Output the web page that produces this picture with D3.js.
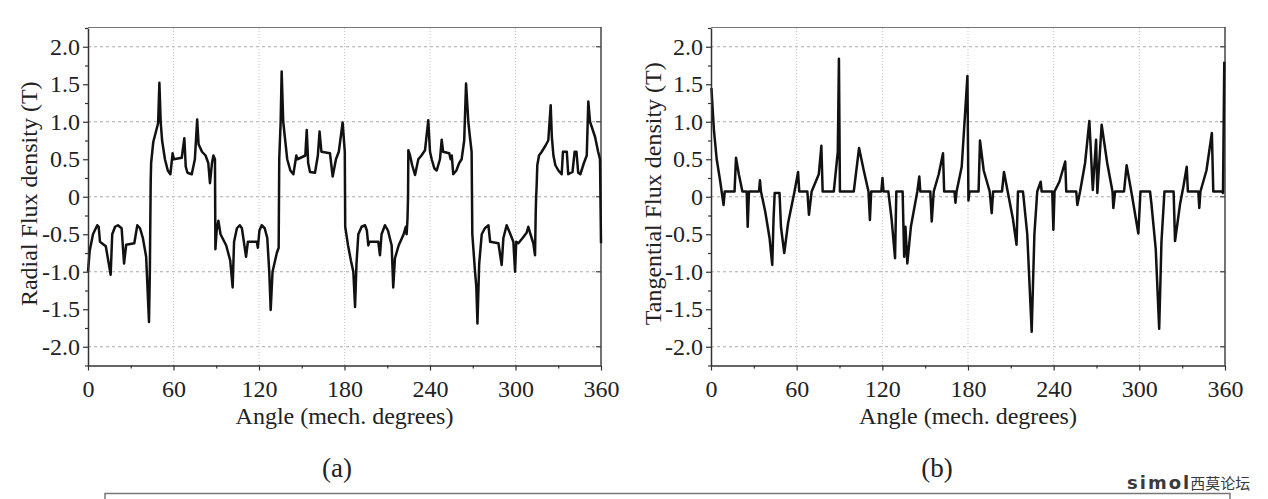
<!DOCTYPE html>
<html>
<head>
<meta charset="utf-8">
<script src="https://cdn.jsdelivr.net/npm/d3@7"></script>
<style>
  body { margin: 0; background: #fff; }
</style>
</head>
<body>
<script>
const W = 1268, H = 499;
const SERIF = "'Liberation Serif', 'Times New Roman', serif";

// (a) radial flux density
const radialAngles = [0, 1.2, 3.5, 6.5, 7.5, 8.4, 12.5, 15.9, 17, 19, 21, 23.6, 25.3, 26.8, 32.5, 34.6, 36.5, 38.5, 40.8, 42.8, 43.4, 44, 44.3, 45.8, 49.2, 50.1, 51, 52, 54, 56, 57.8, 59.4, 60.2, 65.8, 67.6, 68.6, 69.8, 72.8, 75, 76.6, 77.6, 80, 82.5, 84.4, 85.6, 87, 88, 89.1, 89.4, 90.3, 91.5, 93, 97, 99.8, 101.5, 102.5, 104.5, 106.5, 108, 110.9, 112.2, 118.5, 119.2, 120.3, 121.9, 124, 125.8, 127.2, 128.2, 129.5, 132.5, 133.8, 134.2, 135.2, 135.9, 137, 139.8, 142, 144.1, 146.2, 147, 152.5, 153.5, 154.5, 155.8, 159.3, 161.3, 162.5, 163.8, 169.8, 171.7, 174, 176, 178.7, 180.2, 180.5, 182.5, 184.5, 186.2, 187.4, 188.4, 189.7, 192, 194.4, 195.7, 196.7, 197.5, 203.7, 204.9, 206, 208.4, 210.5, 213.1, 214.2, 215.4, 218, 221.5, 223, 223.6, 224.2, 224.6, 224.8, 226, 227.5, 229.5, 231.8, 234, 236.5, 238.8, 240, 241.2, 243, 244.7, 247, 248.2, 249.2, 253.5, 254.5, 255.3, 256.3, 258.5, 260.5, 262.2, 264, 265.3, 266.9, 268, 269.2, 269.7, 271.6, 272.5, 273.3, 274.5, 276.3, 278.5, 281, 282.2, 288, 290.3, 291.5, 293.8, 296, 298.5, 299.7, 300.5, 302, 305, 307.8, 309, 310.5, 312.5, 313.7, 314.2, 314.5, 314.8, 315.3, 316.5, 318.4, 321, 323, 324.7, 325.5, 326.6, 328, 330.1, 332.4, 333.3, 336, 337, 340, 341.5, 342.8, 344, 345.5, 348, 350, 351.1, 352.3, 355.8, 358, 359.3, 360];
const radialFlux = [-1.0, -0.72, -0.5, -0.38, -0.4, -0.6, -0.66, -1.04, -0.5, -0.4, -0.38, -0.42, -0.89, -0.64, -0.62, -0.38, -0.42, -0.55, -0.8, -1.67, -1.0, 0.2, 0.45, 0.73, 0.98, 1.52, 1.0, 0.75, 0.5, 0.35, 0.3, 0.58, 0.5, 0.52, 0.78, 0.4, 0.32, 0.3, 0.5, 1.03, 0.7, 0.6, 0.55, 0.45, 0.18, 0.45, 0.55, 0.5, -0.7, -0.45, -0.32, -0.5, -0.65, -0.85, -1.21, -0.6, -0.42, -0.38, -0.42, -0.8, -0.6, -0.6, -0.68, -0.45, -0.38, -0.42, -0.55, -1.0, -1.51, -1.0, -0.75, -0.68, 0.5, 1.0, 1.67, 1.0, 0.5, 0.35, 0.3, 0.55, 0.5, 0.55, 0.89, 0.45, 0.33, 0.32, 0.55, 0.87, 0.6, 0.58, 0.27, 0.5, 0.6, 0.99, 0.6, -0.4, -0.65, -0.85, -1.0, -1.47, -0.9, -0.5, -0.4, -0.38, -0.45, -0.65, -0.6, -0.6, -0.78, -0.5, -0.38, -0.45, -0.65, -1.21, -0.82, -0.65, -0.5, -0.4, -0.5, -0.3, 0.0, 0.62, 0.55, 0.42, 0.29, 0.5, 0.55, 0.62, 1.02, 0.6, 0.5, 0.38, 0.35, 0.5, 0.76, 0.6, 0.58, 0.5, 0.55, 0.3, 0.35, 0.45, 0.5, 0.75, 1.51, 1.0, 0.8, 0.6, -0.5, -1.0, -1.2, -1.69, -0.9, -0.5, -0.42, -0.38, -0.6, -0.62, -0.91, -0.55, -0.38, -0.48, -0.6, -1.0, -0.6, -0.62, -0.55, -0.48, -0.4, -0.5, -0.62, -0.78, -0.2, 0.0, 0.13, 0.42, 0.55, 0.6, 0.68, 0.75, 1.22, 0.8, 0.55, 0.42, 0.35, 0.3, 0.6, 0.6, 0.3, 0.33, 0.6, 0.6, 0.32, 0.3, 0.45, 0.55, 1.27, 1.0, 0.8, 0.6, 0.5, -0.62];

// (b) tangential flux density
const tangentialAngles = [0.3, 2, 4, 6.5, 8.8, 9.6, 16.5, 17.5, 19.5, 22, 25, 25.7, 26.6, 33.6, 34.3, 35, 38, 41, 42.9, 43.8, 44.6, 48, 49, 51.3, 54, 58.5, 61, 61.8, 67.5, 68.6, 70.5, 75.5, 77.3, 78.2, 86, 88.8, 89.6, 90.3, 100, 103.7, 107, 110.3, 111.3, 112.2, 119.3, 120.1, 120.8, 124.2, 126.5, 128.9, 129.8, 134.2, 135.3, 136.2, 137.5, 140, 144.5, 145.9, 146.6, 153.6, 154.6, 156, 159.5, 162.5, 163.3, 170.5, 171.2, 172, 175.6, 179.6, 180.3, 181, 187.4, 188.4, 191, 195.2, 196.6, 197.6, 203.8, 205.2, 208.5, 211.5, 214, 215, 218.5, 221.5, 224.6, 226.5, 228.5, 230.9, 231.6, 239, 239.8, 240.6, 244, 248.1, 248.8, 255.8, 256.6, 258.5, 262, 265, 267.4, 269.7, 270.6, 273.6, 277.5, 281.2, 281.8, 283, 289.3, 291.1, 295, 299.3, 300.8, 307.5, 308.5, 311.5, 313.9, 315.5, 317.6, 324, 325, 328.5, 331, 333.2, 334, 341.3, 342, 342.8, 347, 350.8, 351.8, 357.9, 358.6, 359.5];
const tangentialFlux = [1.45, 0.9, 0.5, 0.2, -0.11, 0.07, 0.07, 0.52, 0.3, 0.07, 0.07, -0.4, 0.07, 0.07, 0.22, 0.07, -0.2, -0.55, -0.91, -0.3, 0.05, 0.05, -0.4, -0.75, -0.35, 0.07, 0.33, 0.07, 0.07, -0.24, 0.07, 0.3, 0.68, 0.07, 0.07, 0.6, 1.84, 0.07, 0.07, 0.65, 0.35, 0.07, -0.31, 0.07, 0.07, 0.25, 0.07, 0.07, -0.3, -0.82, 0.07, 0.07, -0.8, -0.4, -0.89, -0.4, 0.07, 0.27, 0.07, 0.07, -0.33, 0.07, 0.3, 0.58, 0.07, 0.07, -0.08, 0.07, 0.4, 1.61, -0.05, 0.07, 0.07, 0.75, 0.35, 0.07, -0.22, 0.07, 0.07, 0.33, 0.0, -0.3, -0.64, 0.07, 0.07, -0.5, -1.8, -0.5, 0.07, 0.2, 0.07, 0.07, -0.44, 0.07, 0.2, 0.47, 0.07, 0.07, -0.11, 0.07, 0.45, 1.01, 0.09, 0.76, 0.05, 0.96, 0.45, 0.07, -0.15, 0.07, 0.07, 0.42, 0.0, -0.49, 0.07, 0.07, -0.1, -0.7, -1.76, -0.6, 0.07, 0.07, -0.59, -0.1, 0.15, 0.4, 0.07, 0.07, -0.15, 0.07, 0.35, 0.85, 0.07, 0.07, 0.05, 1.8];

const angleTicks = [0, 60, 120, 180, 240, 300, 360];
const angleMinor = [30, 90, 150, 210, 270, 330];
const fluxTicks = [2, 1.5, 1, 0.5, 0, -0.5, -1, -1.5, -2];
const fluxMinor = [2.25, 1.75, 1.25, 0.75, 0.25, -0.25, -0.75, -1.25, -1.75, -2.25];
const gridFlux = [2, 1, 0, -1, -2];
const gridAngles = [60, 120, 180, 240, 300];

const panels = [
  { left: 88, right: 601, angles: radialAngles, flux: radialFlux,
    title: "Radial Flux density (T)", titleX: 37, caption: "(a)", captionX: 337 },
  { left: 711, right: 1225, angles: tangentialAngles, flux: tangentialFlux,
    title: "Tangential Flux density (T)", titleX: 661, caption: "(b)", captionX: 937 }
];

const TOP = 28, BOTTOM = 365.5;

const svg = d3.select("body").append("svg")
  .attr("width", W)
  .attr("height", H)
  .attr("viewBox", [0, 0, W, H]);

const fmt = d => d === 0 ? "0" : d.toFixed(1);

const drawPanel = p => {
  const x = d3.scaleLinear().domain([0, 360]).range([p.left, p.right]);
  const y = d3.scaleLinear().domain([-2.25, 2.25]).range([BOTTOM, TOP]);
  const g = svg.append("g");

  // grid
  g.append("g").selectAll("line")
    .data(gridFlux)
    .join("line")
      .attr("x1", p.left).attr("x2", p.right)
      .attr("y1", d => y(d)).attr("y2", d => y(d))
      .attr("stroke", "#aaa")
      .attr("stroke-width", 1)
      .attr("stroke-dasharray", "3,3");

  g.append("g").selectAll("line")
    .data(gridAngles)
    .join("line")
      .attr("x1", d => x(d)).attr("x2", d => x(d))
      .attr("y1", TOP).attr("y2", BOTTOM)
      .attr("stroke", "#c4c4c4")
      .attr("stroke-width", 1)
      .attr("stroke-dasharray", "1,2");

  // frame top and right
  g.append("line")
    .attr("x1", p.left).attr("x2", p.right)
    .attr("y1", TOP - 0.5).attr("y2", TOP - 0.5)
    .attr("stroke", "#777").attr("stroke-width", 1);
  g.append("line")
    .attr("x1", p.right).attr("x2", p.right)
    .attr("y1", TOP - 1).attr("y2", BOTTOM)
    .attr("stroke", "#444").attr("stroke-width", 1.5);
  g.append("g").selectAll("line")
    .data(gridFlux)
    .join("line")
      .attr("x1", p.right - 5).attr("x2", p.right)
      .attr("y1", d => y(d)).attr("y2", d => y(d))
      .attr("stroke", "#444").attr("stroke-width", 1.2);

  // flux curve
  const pts = p.angles.map((a, i) => [a, p.flux[i]]);
  g.append("path")
    .datum(pts)
    .attr("fill", "none")
    .attr("stroke", "#111")
    .attr("stroke-width", 2.5)
    .attr("stroke-linejoin", "round")
    .attr("d", d3.line().x(d => x(d[0])).y(d => y(d[1])));

  // x axis
  const xAxis = g.append("g")
    .attr("transform", `translate(0,${BOTTOM})`)
    .call(d3.axisBottom(x).tickValues(angleTicks).tickFormat(d3.format("d")).tickSize(5).tickSizeOuter(0));
  xAxis.selectAll("text").attr("y", 31).attr("dy", null);
  g.append("g")
    .attr("transform", `translate(0,${BOTTOM})`)
    .call(d3.axisBottom(x).tickValues(angleMinor).tickFormat("").tickSize(3))
    .select(".domain").remove();

  // y axis
  g.append("g")
    .attr("transform", `translate(${p.left},0)`)
    .call(d3.axisLeft(y).tickValues(fluxTicks).tickFormat(fmt).tickSize(5).tickPadding(3).tickSizeOuter(0));
  g.append("g")
    .attr("transform", `translate(${p.left},0)`)
    .call(d3.axisLeft(y).tickValues(fluxMinor).tickFormat("").tickSize(3))
    .select(".domain").remove();

  g.selectAll(".domain").attr("stroke", "#333").attr("stroke-width", 1.5);
  g.selectAll(".tick line").attr("stroke", "#333").attr("stroke-width", 1.2);
  g.selectAll(".tick text")
    .attr("fill", "#222")
    .style("font-family", SERIF)
    .style("font-size", "24px");

  // titles
  g.append("text")
    .attr("x", (p.left + p.right) / 2)
    .attr("y", 424)
    .attr("text-anchor", "middle")
    .style("font-family", SERIF)
    .style("font-size", "24px")
    .attr("fill", "#222")
    .text("Angle (mech. degrees)");

  g.append("text")
    .attr("transform", `translate(${p.titleX},${(TOP + BOTTOM) / 2 - 3}) rotate(-90)`)
    .attr("text-anchor", "middle")
    .style("font-family", SERIF)
    .style("font-size", "24px")
    .attr("fill", "#222")
    .text(p.title);

  g.append("text")
    .attr("x", p.captionX)
    .attr("y", 477)
    .attr("text-anchor", "middle")
    .style("font-family", SERIF)
    .style("font-size", "27px")
    .attr("fill", "#222")
    .text(p.caption);
};

panels.forEach(drawPanel);

// watermark
const mark = svg.append("text")
  .attr("x", 1127)
  .attr("y", 489);
mark.append("tspan")
  .style("font-family", "'DejaVu Sans', sans-serif")
  .style("font-weight", "bold")
  .style("font-size", "18px")
  .attr("fill", "#3a3a3a")
  .attr("letter-spacing", 2)
  .text("simol");
mark.append("tspan")
  .style("font-family", "'Noto Sans CJK SC', sans-serif")
  .style("font-size", "15px")
  .attr("fill", "#3a3a3a")
  .attr("dx", -1)
  .text("西莫论坛");

// lower box edge
svg.append("path")
  .attr("d", "M105,500V493.5H1230V500")
  .attr("fill", "none")
  .attr("stroke", "#777")
  .attr("stroke-width", 1.5);
</script>
</body>
</html>
